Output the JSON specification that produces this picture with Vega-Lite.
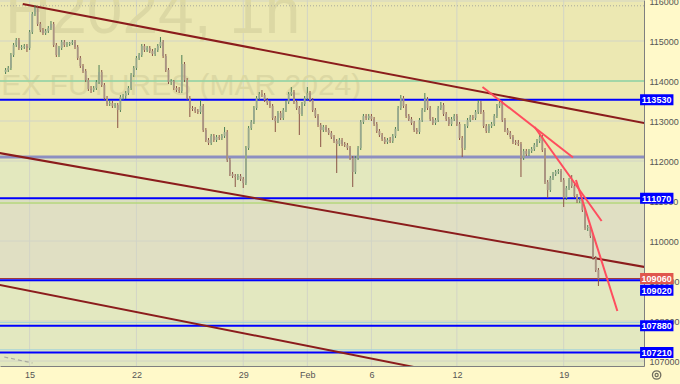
{
 "$schema": "https://vega.github.io/schema/vega-lite/v6.json",
 "width": 644, "height": 366,
 "autosize": {"type": "none"},
 "padding": {"left": 0, "top": 0, "right": 36, "bottom": 18},
 "background": "#fff9c9",
 "config": {"view": {"fill": "#ece8b2", "stroke": null}, "font": "Liberation Sans", "axis": {"titleColor": "transparent", "titleFontSize": 1}},
 "data": {"values": [{"one": 1}]},
 "datasets": {
  "bands": [{"lo":110950,"hi":112100,"z":"g"},{"lo":109020,"hi":110950,"z":"n"},{"lo":106875,"hi":109020,"z":"g2"}],
  "gridy": [{"v":107000},{"v":108000},{"v":109000},{"v":110000},{"v":111000},{"v":112000},{"v":113000},{"v":114000},{"v":115000},{"v":116000}],
  "gridx": [{"i":0},{"i":40},{"i":80},{"i":104},{"i":128},{"i":160},{"i":200}],
  "blue": [{"v":113530},{"v":111070},{"v":109020},{"v":107880},{"v":107210}],
  "blueLabels": [{"v":113530},{"v":111070},{"v":107880},{"v":107210}],
  "maroon": [{"i1":-2.58,"v1":115925,"i2":250,"v2":112698},{"i1":-12,"v1":112208,"i2":250,"v2":109118},{"i1":-12,"v1":108912,"i2":160,"v2":106637}],
  "redlines": [{"i1":169.6,"v1":113850,"i2":203.5,"v2":112088},{"i1":189.1,"v1":112850,"i2":214.2,"v2":110500},{"i1":204.6,"v1":111525,"i2":220.1,"v2":108250}],
  "candles": [
{"i":-9,"o":114225,"h":114325,"l":114175,"c":114275},
{"i":-8,"o":114275,"h":114375,"l":114225,"c":114325},
{"i":-7,"o":114325,"h":114700,"l":114275,"c":114650},
{"i":-6,"o":114650,"h":114950,"l":114600,"c":114900},
{"i":-5,"o":114900,"h":115075,"l":114850,"c":115025},
{"i":-4,"o":115025,"h":115075,"l":114775,"c":114825},
{"i":-3,"o":114825,"h":114900,"l":114775,"c":114850},
{"i":-2,"o":114850,"h":114925,"l":114800,"c":114875},
{"i":-1,"o":114875,"h":114925,"l":114725,"c":114825},
{"i":0,"o":114825,"h":115275,"l":114775,"c":115225},
{"i":1,"o":115225,"h":115725,"l":115175,"c":115675},
{"i":2,"o":115675,"h":115900,"l":115625,"c":115825},
{"i":3,"o":115825,"h":115875,"l":115375,"c":115425},
{"i":4,"o":115425,"h":115475,"l":115225,"c":115275},
{"i":5,"o":115275,"h":115325,"l":115150,"c":115200},
{"i":6,"o":115200,"h":115300,"l":115150,"c":115250},
{"i":7,"o":115250,"h":115375,"l":115200,"c":115325},
{"i":8,"o":115325,"h":115500,"l":115275,"c":115425},
{"i":9,"o":115425,"h":115475,"l":114850,"c":114900},
{"i":10,"o":114900,"h":114950,"l":114600,"c":114650},
{"i":11,"o":114650,"h":114875,"l":114600,"c":114825},
{"i":12,"o":114825,"h":115025,"l":114775,"c":114975},
{"i":13,"o":114975,"h":115025,"l":114850,"c":114900},
{"i":14,"o":114900,"h":114975,"l":114850,"c":114925},
{"i":15,"o":114925,"h":114975,"l":114875,"c":114950},
{"i":16,"o":114950,"h":115025,"l":114900,"c":114975},
{"i":17,"o":114975,"h":115025,"l":114800,"c":114850},
{"i":18,"o":114850,"h":114900,"l":114525,"c":114575},
{"i":19,"o":114575,"h":114625,"l":114325,"c":114375},
{"i":20,"o":114375,"h":114425,"l":114200,"c":114250},
{"i":21,"o":114250,"h":114300,"l":113975,"c":114025},
{"i":22,"o":114025,"h":114075,"l":113750,"c":113800},
{"i":23,"o":113800,"h":113875,"l":113700,"c":113775},
{"i":24,"o":113775,"h":113875,"l":113725,"c":113825},
{"i":25,"o":113825,"h":114025,"l":113775,"c":113975},
{"i":26,"o":113975,"h":114400,"l":113925,"c":114225},
{"i":27,"o":114225,"h":114275,"l":113850,"c":113900},
{"i":28,"o":113900,"h":113950,"l":113525,"c":113575},
{"i":29,"o":113575,"h":113625,"l":113375,"c":113425},
{"i":30,"o":113425,"h":113525,"l":113375,"c":113450},
{"i":31,"o":113450,"h":113500,"l":113325,"c":113375},
{"i":32,"o":113375,"h":113450,"l":113325,"c":113400},
{"i":33,"o":113400,"h":113450,"l":112825,"c":113275},
{"i":34,"o":113275,"h":113650,"l":113225,"c":113600},
{"i":35,"o":113600,"h":113675,"l":113525,"c":113625},
{"i":36,"o":113625,"h":113750,"l":113550,"c":113700},
{"i":37,"o":113700,"h":113875,"l":113650,"c":113825},
{"i":38,"o":113825,"h":114200,"l":113775,"c":114150},
{"i":39,"o":114150,"h":114375,"l":114100,"c":114325},
{"i":40,"o":114325,"h":114625,"l":114275,"c":114575},
{"i":41,"o":114575,"h":114700,"l":114525,"c":114650},
{"i":42,"o":114650,"h":114925,"l":114600,"c":114875},
{"i":43,"o":114875,"h":114925,"l":114725,"c":114775},
{"i":44,"o":114775,"h":114875,"l":114725,"c":114825},
{"i":45,"o":114825,"h":114875,"l":114700,"c":114750},
{"i":46,"o":114750,"h":114800,"l":114625,"c":114675},
{"i":47,"o":114675,"h":114825,"l":114625,"c":114775},
{"i":48,"o":114775,"h":114925,"l":114725,"c":114875},
{"i":49,"o":114875,"h":115100,"l":114825,"c":114975},
{"i":50,"o":114975,"h":115025,"l":114575,"c":114625},
{"i":51,"o":114625,"h":114675,"l":114225,"c":114275},
{"i":52,"o":114275,"h":114325,"l":113925,"c":113975},
{"i":53,"o":113975,"h":114050,"l":113900,"c":114000},
{"i":54,"o":114000,"h":114025,"l":113775,"c":113825},
{"i":55,"o":113825,"h":113875,"l":113725,"c":113775},
{"i":56,"o":113775,"h":113850,"l":113700,"c":113750},
{"i":57,"o":113750,"h":114650,"l":113700,"c":114425},
{"i":58,"o":114425,"h":114475,"l":113975,"c":114025},
{"i":59,"o":114025,"h":114075,"l":113525,"c":113575},
{"i":60,"o":113575,"h":113625,"l":113100,"c":113325},
{"i":61,"o":113325,"h":113375,"l":113250,"c":113300},
{"i":62,"o":113300,"h":113350,"l":113200,"c":113250},
{"i":63,"o":113250,"h":113300,"l":113175,"c":113225},
{"i":64,"o":113225,"h":113525,"l":113175,"c":113375},
{"i":65,"o":113375,"h":113425,"l":112725,"c":112775},
{"i":66,"o":112775,"h":112825,"l":112475,"c":112525},
{"i":67,"o":112525,"h":112575,"l":112400,"c":112450},
{"i":68,"o":112450,"h":112675,"l":112400,"c":112625},
{"i":69,"o":112625,"h":112675,"l":112475,"c":112525},
{"i":70,"o":112525,"h":112650,"l":112475,"c":112600},
{"i":71,"o":112600,"h":112650,"l":112525,"c":112575},
{"i":72,"o":112575,"h":112675,"l":112525,"c":112625},
{"i":73,"o":112625,"h":112850,"l":112575,"c":112725},
{"i":74,"o":112725,"h":112775,"l":111975,"c":112025},
{"i":75,"o":112025,"h":112075,"l":111625,"c":111675},
{"i":76,"o":111675,"h":111725,"l":111575,"c":111625},
{"i":77,"o":111625,"h":111675,"l":111350,"c":111600},
{"i":78,"o":111600,"h":111675,"l":111525,"c":111625},
{"i":79,"o":111625,"h":111675,"l":111500,"c":111550},
{"i":80,"o":111550,"h":111600,"l":111325,"c":111450},
{"i":81,"o":111450,"h":112375,"l":111400,"c":112325},
{"i":82,"o":112325,"h":112875,"l":112275,"c":112825},
{"i":83,"o":112825,"h":113025,"l":112775,"c":112975},
{"i":84,"o":112975,"h":113375,"l":112925,"c":113325},
{"i":85,"o":113325,"h":113625,"l":113275,"c":113575},
{"i":86,"o":113575,"h":113725,"l":113525,"c":113675},
{"i":87,"o":113675,"h":113775,"l":113600,"c":113650},
{"i":88,"o":113650,"h":113700,"l":113475,"c":113525},
{"i":89,"o":113525,"h":113575,"l":113400,"c":113450},
{"i":90,"o":113450,"h":113500,"l":113325,"c":113375},
{"i":91,"o":113375,"h":113425,"l":113025,"c":113075},
{"i":92,"o":113075,"h":113125,"l":112725,"c":113000},
{"i":93,"o":113000,"h":113250,"l":112950,"c":113200},
{"i":94,"o":113200,"h":113250,"l":113025,"c":113075},
{"i":95,"o":113075,"h":113325,"l":113025,"c":113275},
{"i":96,"o":113275,"h":113525,"l":113225,"c":113475},
{"i":97,"o":113475,"h":113725,"l":113425,"c":113675},
{"i":98,"o":113675,"h":113850,"l":113625,"c":113725},
{"i":99,"o":113725,"h":113775,"l":113425,"c":113475},
{"i":100,"o":113475,"h":113525,"l":113275,"c":113325},
{"i":101,"o":113325,"h":113375,"l":112650,"c":113175},
{"i":102,"o":113175,"h":113475,"l":113125,"c":113425},
{"i":103,"o":113425,"h":113625,"l":113375,"c":113575},
{"i":104,"o":113575,"h":113850,"l":113525,"c":113700},
{"i":105,"o":113700,"h":113750,"l":113475,"c":113525},
{"i":106,"o":113525,"h":113575,"l":113225,"c":113275},
{"i":107,"o":113275,"h":113325,"l":113075,"c":113125},
{"i":108,"o":113125,"h":113175,"l":112850,"c":112900},
{"i":109,"o":112900,"h":112950,"l":112350,"c":112775},
{"i":110,"o":112775,"h":112900,"l":112725,"c":112850},
{"i":111,"o":112850,"h":112900,"l":112725,"c":112775},
{"i":112,"o":112775,"h":112825,"l":112650,"c":112700},
{"i":113,"o":112700,"h":112750,"l":112550,"c":112600},
{"i":114,"o":112600,"h":112650,"l":112450,"c":112500},
{"i":115,"o":112500,"h":112550,"l":111700,"c":112425},
{"i":116,"o":112425,"h":112575,"l":112375,"c":112525},
{"i":117,"o":112525,"h":112575,"l":112375,"c":112425},
{"i":118,"o":112425,"h":112475,"l":112350,"c":112400},
{"i":119,"o":112400,"h":112450,"l":112275,"c":112325},
{"i":120,"o":112325,"h":112375,"l":112025,"c":112075},
{"i":121,"o":112075,"h":112125,"l":111350,"c":111725},
{"i":122,"o":111725,"h":112125,"l":111675,"c":112075},
{"i":123,"o":112075,"h":112375,"l":112025,"c":112325},
{"i":124,"o":112325,"h":113025,"l":112275,"c":112975},
{"i":125,"o":112975,"h":113175,"l":112925,"c":113125},
{"i":126,"o":113125,"h":113175,"l":113025,"c":113075},
{"i":127,"o":113075,"h":113175,"l":113025,"c":113125},
{"i":128,"o":113125,"h":113175,"l":113000,"c":113050},
{"i":129,"o":113050,"h":113100,"l":112875,"c":112925},
{"i":130,"o":112925,"h":112975,"l":112700,"c":112750},
{"i":131,"o":112750,"h":112800,"l":112600,"c":112650},
{"i":132,"o":112650,"h":112700,"l":112500,"c":112550},
{"i":133,"o":112550,"h":112600,"l":112425,"c":112475},
{"i":134,"o":112475,"h":112575,"l":112425,"c":112525},
{"i":135,"o":112525,"h":112600,"l":112450,"c":112500},
{"i":136,"o":112500,"h":112675,"l":112450,"c":112625},
{"i":137,"o":112625,"h":112850,"l":112575,"c":112800},
{"i":138,"o":112800,"h":113375,"l":112750,"c":113325},
{"i":139,"o":113325,"h":113650,"l":113275,"c":113575},
{"i":140,"o":113575,"h":113625,"l":113325,"c":113375},
{"i":141,"o":113375,"h":113425,"l":113075,"c":113125},
{"i":142,"o":113125,"h":113175,"l":113000,"c":113050},
{"i":143,"o":113050,"h":113100,"l":112900,"c":112950},
{"i":144,"o":112950,"h":113000,"l":112725,"c":112775},
{"i":145,"o":112775,"h":112825,"l":112675,"c":112725},
{"i":146,"o":112725,"h":113075,"l":112675,"c":113025},
{"i":147,"o":113025,"h":113325,"l":112975,"c":113275},
{"i":148,"o":113275,"h":113700,"l":113225,"c":113550},
{"i":149,"o":113550,"h":113600,"l":113275,"c":113325},
{"i":150,"o":113325,"h":113375,"l":113000,"c":113050},
{"i":151,"o":113050,"h":113100,"l":112900,"c":112950},
{"i":152,"o":112950,"h":113075,"l":112900,"c":113025},
{"i":153,"o":113025,"h":113375,"l":112975,"c":113325},
{"i":154,"o":113325,"h":113475,"l":113275,"c":113400},
{"i":155,"o":113400,"h":113450,"l":113125,"c":113175},
{"i":156,"o":113175,"h":113225,"l":113000,"c":113050},
{"i":157,"o":113050,"h":113100,"l":112875,"c":112925},
{"i":158,"o":112925,"h":113100,"l":112875,"c":113050},
{"i":159,"o":113050,"h":113175,"l":113000,"c":113125},
{"i":160,"o":113125,"h":113175,"l":112875,"c":112925},
{"i":161,"o":112925,"h":112975,"l":112525,"c":112575},
{"i":162,"o":112575,"h":112625,"l":112100,"c":112325},
{"i":163,"o":112325,"h":112925,"l":112275,"c":112875},
{"i":164,"o":112875,"h":113075,"l":112825,"c":113025},
{"i":165,"o":113025,"h":113150,"l":112975,"c":113100},
{"i":166,"o":113100,"h":113150,"l":113025,"c":113075},
{"i":167,"o":113075,"h":113275,"l":113025,"c":113225},
{"i":168,"o":113225,"h":113525,"l":113175,"c":113450},
{"i":169,"o":113450,"h":113500,"l":113175,"c":113225},
{"i":170,"o":113225,"h":113275,"l":112825,"c":112875},
{"i":171,"o":112875,"h":112925,"l":112700,"c":112750},
{"i":172,"o":112750,"h":112925,"l":112700,"c":112875},
{"i":173,"o":112875,"h":112975,"l":112825,"c":112925},
{"i":174,"o":112925,"h":113175,"l":112875,"c":113125},
{"i":175,"o":113125,"h":113425,"l":113075,"c":113375},
{"i":176,"o":113375,"h":113550,"l":113325,"c":113450},
{"i":177,"o":113450,"h":113500,"l":112975,"c":113025},
{"i":178,"o":113025,"h":113075,"l":112725,"c":112775},
{"i":179,"o":112775,"h":112825,"l":112650,"c":112700},
{"i":180,"o":112700,"h":112750,"l":112550,"c":112600},
{"i":181,"o":112600,"h":112650,"l":112425,"c":112475},
{"i":182,"o":112475,"h":112525,"l":112400,"c":112450},
{"i":183,"o":112450,"h":112525,"l":112375,"c":112425},
{"i":184,"o":112425,"h":112475,"l":111600,"c":112075},
{"i":185,"o":112075,"h":112300,"l":112025,"c":112250},
{"i":186,"o":112250,"h":112300,"l":112125,"c":112175},
{"i":187,"o":112175,"h":112300,"l":112125,"c":112250},
{"i":188,"o":112250,"h":112350,"l":112200,"c":112300},
{"i":189,"o":112300,"h":112450,"l":112250,"c":112400},
{"i":190,"o":112400,"h":112550,"l":112350,"c":112500},
{"i":191,"o":112500,"h":112700,"l":112450,"c":112600},
{"i":192,"o":112600,"h":112650,"l":112225,"c":112275},
{"i":193,"o":112275,"h":112325,"l":111425,"c":111475},
{"i":194,"o":111475,"h":111525,"l":111075,"c":111275},
{"i":195,"o":111275,"h":111625,"l":111225,"c":111575},
{"i":196,"o":111575,"h":111725,"l":111525,"c":111675},
{"i":197,"o":111675,"h":111775,"l":111625,"c":111725},
{"i":198,"o":111725,"h":111800,"l":111675,"c":111750},
{"i":199,"o":111750,"h":111800,"l":111475,"c":111525},
{"i":200,"o":111525,"h":111575,"l":110850,"c":111075},
{"i":201,"o":111075,"h":111375,"l":111025,"c":111325},
{"i":202,"o":111325,"h":111575,"l":111275,"c":111525},
{"i":203,"o":111525,"h":111650,"l":111325,"c":111375},
{"i":204,"o":111375,"h":111425,"l":111075,"c":111125},
{"i":205,"o":111125,"h":111175,"l":110950,"c":111000},
{"i":206,"o":111000,"h":111075,"l":110950,"c":111025},
{"i":207,"o":111025,"h":111075,"l":110725,"c":110775},
{"i":208,"o":110775,"h":110825,"l":110275,"c":110325},
{"i":209,"o":110325,"h":110400,"l":110250,"c":110350},
{"i":210,"o":110350,"h":110400,"l":110075,"c":110125},
{"i":211,"o":110125,"h":110175,"l":109525,"c":109575},
{"i":212,"o":109575,"h":109625,"l":109225,"c":109275},
{"i":213,"o":109275,"h":109325,"l":108875,"c":109060}
  ]
 },
 "layer": [
  {"data": {"name": "bands"}, "mark": {"type": "rect"},
   "encoding": {
    "y": {"field": "lo", "type": "quantitative", "scale": {"domain": [106875, 116025], "nice": false, "zero": false}},
    "y2": {"field": "hi"},
    "color": {"field": "z", "type": "nominal", "scale": {"domain": ["g", "n", "g2"], "range": ["#e3e8be", "#e0dfc3", "#e3e8c0"]}, "legend": null}}},
  {"data": {"name": "gridy"}, "mark": {"type": "rule", "color": "#d2d4c6", "strokeWidth": 1},
   "encoding": {"y": {"field": "v", "type": "quantitative", "scale": {"domain": [106875, 116025], "nice": false, "zero": false}}}},
  {"data": {"name": "gridx"}, "mark": {"type": "rule", "color": "#d2d4c6", "strokeWidth": 1},
   "encoding": {"x": {"field": "i", "type": "quantitative", "scale": {"domain": [-9.217, 228.2], "nice": false, "zero": false}}}},
  {"mark": {"type": "text", "text": "RIH2024, 1h", "align": "right", "baseline": "alphabetic", "fontSize": 64, "font": "Liberation Sans", "color": "#dcd8a4"},
   "encoding": {"x": {"datum": 101.4, "type": "quantitative", "scale": {"domain": [-9.217, 228.2], "nice": false, "zero": false}},
                "y": {"datum": 115200, "type": "quantitative", "scale": {"domain": [106875, 116025], "nice": false, "zero": false}}}},
  {"mark": {"type": "text", "text": "RTS INDEX FUTURES (MAR 2024)", "align": "right", "baseline": "alphabetic", "fontSize": 30, "font": "Liberation Sans", "color": "#dcd8a4"},
   "encoding": {"x": {"datum": 124.2, "type": "quantitative", "scale": {"domain": [-9.217, 228.2], "nice": false, "zero": false}},
                "y": {"datum": 113650, "type": "quantitative", "scale": {"domain": [106875, 116025], "nice": false, "zero": false}}}},
  {"mark": {"type": "rule", "color": "#a9a99c", "strokeWidth": 1, "strokeDash": [1, 2]},
   "encoding": {"y": {"datum": 115880, "type": "quantitative", "scale": {"domain": [106875, 116025], "nice": false, "zero": false}}}},
  {"mark": {"type": "rule", "color": "#8fd3a0", "strokeWidth": 1.5},
   "encoding": {"y": {"datum": 114000, "type": "quantitative", "scale": {"domain": [106875, 116025], "nice": false, "zero": false}}}},
  {"mark": {"type": "rule", "color": "#8d8fc0", "strokeWidth": 3},
   "encoding": {"y": {"datum": 112100, "type": "quantitative", "scale": {"domain": [106875, 116025], "nice": false, "zero": false}}}},
  {"mark": {"type": "rule", "color": "#b5d67e", "strokeWidth": 1.5},
   "encoding": {"y": {"datum": 110950, "type": "quantitative", "scale": {"domain": [106875, 116025], "nice": false, "zero": false}}}},
  {"mark": {"type": "rule", "color": "#a2d2dc", "strokeWidth": 1},
   "encoding": {"y": {"datum": 107965, "type": "quantitative", "scale": {"domain": [106875, 116025], "nice": false, "zero": false}}}},
  {"mark": {"type": "rule", "color": "#a2d2dc", "strokeWidth": 1},
   "encoding": {"y": {"datum": 107280, "type": "quantitative", "scale": {"domain": [106875, 116025], "nice": false, "zero": false}}}},
  {"mark": {"type": "rule", "color": "#9c2a2a", "strokeWidth": 1},
   "encoding": {"y": {"datum": 109060, "type": "quantitative", "scale": {"domain": [106875, 116025], "nice": false, "zero": false}}}},
  {"data": {"name": "blue"}, "mark": {"type": "rule", "color": "#0000ff", "strokeWidth": 2},
   "encoding": {"y": {"field": "v", "type": "quantitative", "scale": {"domain": [106875, 116025], "nice": false, "zero": false}}}},
  {"mark": {"type": "rule", "color": "#a8a8a0", "strokeWidth": 1.2, "strokeDash": [4, 3], "clip": true},
   "encoding": {"x": {"datum": -9.5, "type": "quantitative", "scale": {"domain": [-9.217, 228.2], "nice": false, "zero": false}},
                "x2": {"datum": 1.1},
                "y": {"datum": 107100, "type": "quantitative", "scale": {"domain": [106875, 116025], "nice": false, "zero": false}},
                "y2": {"datum": 106950}}},
  {"data": {"name": "maroon"}, "mark": {"type": "rule", "color": "#8b1c1c", "strokeWidth": 2, "clip": true},
   "encoding": {"x": {"field": "i1", "type": "quantitative", "scale": {"domain": [-9.217, 228.2], "nice": false, "zero": false}},
                "x2": {"field": "i2"},
                "y": {"field": "v1", "type": "quantitative", "scale": {"domain": [106875, 116025], "nice": false, "zero": false}},
                "y2": {"field": "v2"}}},
  {"data": {"name": "candles"}, "mark": {"type": "rule", "strokeWidth": 1},
   "encoding": {
    "x": {"field": "i", "type": "quantitative", "scale": {"domain": [-9.217, 228.2], "nice": false, "zero": false},
          "axis": {"orient": "bottom", "values": [0, 40, 80, 104, 128, 160, 200], "title": null, "grid": false, "ticks": false, "zindex": 0,
                   "labelExpr": "datum.value == 0 ? '15' : datum.value == 40 ? '22' : datum.value == 80 ? '29' : datum.value == 104 ? 'Feb' : datum.value == 128 ? '6' : datum.value == 160 ? '12' : '19'",
                   "labelFont": "Liberation Sans", "labelFontSize": 9, "labelColor": "#555555", "labelPadding": 4, "domainColor": "#7f7f7f", "labelFlush": false}},
    "y": {"field": "l", "type": "quantitative", "scale": {"domain": [106875, 116025], "nice": false, "zero": false},
          "axis": {"orient": "right", "values": [107000, 108000, 109000, 110000, 111000, 112000, 113000, 114000, 115000, 116000], "format": "d", "title": null, "grid": false, "ticks": false, "zindex": 0,
                   "labelFont": "Liberation Sans", "labelFontSize": 9, "labelColor": "#555555", "labelPadding": 5, "domainColor": "#7f7f7f", "labelFlush": false}},
    "y2": {"field": "h"},
    "color": {"condition": {"test": "datum.c >= datum.o", "value": "#4d7f55"}, "value": "#8a5346"}}},
  {"data": {"name": "candles"}, "mark": {"type": "bar", "width": 1.8},
   "encoding": {
    "x": {"field": "i", "type": "quantitative", "scale": {"domain": [-9.217, 228.2], "nice": false, "zero": false}},
    "y": {"field": "o", "type": "quantitative", "scale": {"domain": [106875, 116025], "nice": false, "zero": false}},
    "y2": {"field": "c"},
    "color": {"condition": {"test": "datum.c >= datum.o", "value": "#98a88e"}, "value": "#a99383"}}},
  {"data": {"name": "redlines"}, "mark": {"type": "rule", "color": "#ff4d5e", "strokeWidth": 2, "clip": true},
   "encoding": {"x": {"field": "i1", "type": "quantitative", "scale": {"domain": [-9.217, 228.2], "nice": false, "zero": false}},
                "x2": {"field": "i2"},
                "y": {"field": "v1", "type": "quantitative", "scale": {"domain": [106875, 116025], "nice": false, "zero": false}},
                "y2": {"field": "v2"}}},
  {"data": {"name": "blueLabels"},
   "layer": [
    {"mark": {"type": "rect", "color": "#0000ff", "yOffset": -5.5, "y2Offset": 5.5},
     "encoding": {"x": {"datum": 228.6, "type": "quantitative", "scale": {"domain": [-9.217, 228.2], "nice": false, "zero": false}},
                  "x2": {"datum": 241.1},
                  "y": {"field": "v", "type": "quantitative", "scale": {"domain": [106875, 116025], "nice": false, "zero": false}},
                  "y2": {"field": "v"}}},
    {"mark": {"type": "text", "color": "#ffffff", "fontWeight": "bold", "fontSize": 9, "font": "Liberation Sans", "align": "center", "baseline": "middle", "dy": 0.5},
     "encoding": {"x": {"datum": 234.8, "type": "quantitative", "scale": {"domain": [-9.217, 228.2], "nice": false, "zero": false}},
                  "y": {"field": "v", "type": "quantitative", "scale": {"domain": [106875, 116025], "nice": false, "zero": false}},
                  "text": {"field": "v", "type": "quantitative", "format": "d"}}}
   ]},
  {"layer": [
    {"mark": {"type": "rect", "color": "#e0574d", "yOffset": -5.5, "y2Offset": 5.5},
     "encoding": {"x": {"datum": 228.6, "type": "quantitative", "scale": {"domain": [-9.217, 228.2], "nice": false, "zero": false}},
                  "x2": {"datum": 241.1},
                  "y": {"datum": 109060, "type": "quantitative", "scale": {"domain": [106875, 116025], "nice": false, "zero": false}},
                  "y2": {"datum": 109060}}},
    {"mark": {"type": "text", "text": "109060", "color": "#ffffff", "fontWeight": "bold", "fontSize": 9, "font": "Liberation Sans", "align": "center", "baseline": "middle", "dy": 0.5},
     "encoding": {"x": {"datum": 234.8, "type": "quantitative", "scale": {"domain": [-9.217, 228.2], "nice": false, "zero": false}},
                  "y": {"datum": 109060, "type": "quantitative", "scale": {"domain": [106875, 116025], "nice": false, "zero": false}}}},
    {"mark": {"type": "rect", "color": "#0000ff", "yOffset": 4.5, "y2Offset": 15.5},
     "encoding": {"x": {"datum": 228.6, "type": "quantitative", "scale": {"domain": [-9.217, 228.2], "nice": false, "zero": false}},
                  "x2": {"datum": 241.1},
                  "y": {"datum": 109020, "type": "quantitative", "scale": {"domain": [106875, 116025], "nice": false, "zero": false}},
                  "y2": {"datum": 109020}}},
    {"mark": {"type": "text", "text": "109020", "color": "#ffffff", "fontWeight": "bold", "fontSize": 9, "font": "Liberation Sans", "align": "center", "baseline": "middle", "dy": 10.5},
     "encoding": {"x": {"datum": 234.8, "type": "quantitative", "scale": {"domain": [-9.217, 228.2], "nice": false, "zero": false}},
                  "y": {"datum": 109020, "type": "quantitative", "scale": {"domain": [106875, 116025], "nice": false, "zero": false}}}},
    {"mark": {"type": "point", "shape": "circle", "size": 70, "filled": false, "color": "#333333", "strokeWidth": 1.3},
     "encoding": {"x": {"datum": 234.8, "type": "quantitative", "scale": {"domain": [-9.217, 228.2], "nice": false, "zero": false}},
                  "y": {"datum": 106650, "type": "quantitative", "scale": {"domain": [106875, 116025], "nice": false, "zero": false}}}},
    {"mark": {"type": "point", "shape": "circle", "size": 10, "filled": false, "color": "#333333", "strokeWidth": 1.2},
     "encoding": {"x": {"datum": 234.8, "type": "quantitative", "scale": {"domain": [-9.217, 228.2], "nice": false, "zero": false}},
                  "y": {"datum": 106650, "type": "quantitative", "scale": {"domain": [106875, 116025], "nice": false, "zero": false}}}}
  ]}
 ]
}
